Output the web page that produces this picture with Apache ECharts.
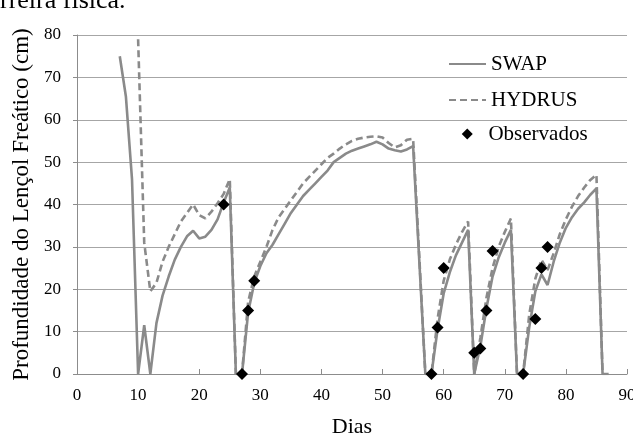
<!DOCTYPE html>
<html>
<head>
<meta charset="utf-8">
<script src="https://cdn.jsdelivr.net/npm/echarts@6/dist/echarts.min.js"></script>
<style>
html,body{margin:0;padding:0;background:#fff;overflow:hidden;}
#chart{width:633px;height:434px;}
</style>
</head>
<body>
<div id="chart"></div>
<script>
// ---- data ----
const swapDays = [7,8,9,10,11,12,13,14,15,16,17,18,19,20,21,22,23,24,25,26,27,28,29,30,31,32,33,34,35,36,37,38,39,40,41,42,43,44,45,46,47,48,49,50,51,52,53,54,55,56,57,58,59,60,61,62,63,64,65,66,67,68,69,70,71,72,73,74,75,76,77,78,79,80,81,82,83,84,85,86,87];
const swapDepth = [75,65.5,46,0,11.5,0,12,18.5,23,27,30,32.5,33.8,32,32.4,34,36.5,40.5,44,0,0,14.5,21.5,25.5,28.5,30.5,33,35.5,38,40,42,43.5,45,46.5,48,50,51,52,52.7,53.2,53.7,54.2,54.8,54.2,53.2,52.8,52.5,53,53.8,27,0,0,10.5,19,24,28,31,34,0,6.5,15.5,23,27.5,31,34,0,0,11,19.5,23.5,21,26.5,31,34.5,37,39,40.5,42.3,43.8,0,0];

const hydrusDays = [10,11,12,13,14,15,16,17,18,19,20,21,22,23,24,25,26,27,28,29,30,31,32,33,34,35,36,37,38,39,40,41,42,43,44,45,46,47,48,49,50,51,52,53,54,55,56,57,58,59,60,61,62,63,64,65,66,67,68,69,70,71,72,73,74,75,76,77,78,79,80,81,82,83,84,85,86];
const hydrusDepth = [79,31,19.5,21.5,26.5,30,33,36,38,40,37.5,36.7,38.3,40.3,42.5,46,0,0,17,23,26.5,30,34,37,39,41,43,45,46.5,48,49.5,51,52,53.2,54.2,55,55.5,55.8,56,56.1,55.8,54.5,53.5,54,55.3,55.5,28,0,0,13,22,27,30.5,33.5,36,0,8.5,18,25,30,33.5,36.7,0,0,14,22.5,27,24.5,28.5,33,36.5,39.5,42,44,45.8,47,0];

const obsDays = [24,27,28,29,58,59,60,65,66,67,68,73,75,76,77];
const obsDepth = [40,0,15,22,0,11,25,5,6,15,29,0,13,25,30];

const xTicks = [0,10,20,30,40,50,60,70,80,90];
const yTicks = [0,10,20,30,40,50,60,70,80];

const seriesNames = ['SWAP','HYDRUS','Observados'];
const yTitle = 'Profundidade do Lençol Freático (cm)';
const xTitle = 'Dias';
const topText = 'rreira física.';

// ---- build ----
const zip = (a,b) => a.map((v,i) => [v, b[i]]);
const FONT = 'Liberation Serif';
const lineColor = '#8a8a8a';

const chart = echarts.init(document.getElementById('chart'), null, {renderer:'canvas'});

const legendCommon = {
  orient: 'vertical',
  left: 448,
  itemWidth: 37,
  itemHeight: 11,
  selectedMode: false,
  textStyle: {fontFamily: FONT, fontSize: 21, color: '#000', lineHeight: 22},
  padding: 0
};
// diamond icon centred inside a 37-wide box (invisible anchor points keep the box width)
const diamondIcon = 'path://M0,5.5L0,5.5M37,5.5L37,5.5M21,0L27,6L21,12L15,6Z';

chart.setOption({
  animation: false,
  backgroundColor: '#fff',
  graphic: [{
    type: 'text', x: 0, y: 14,
    style: {text: topText, font: '26px "Liberation Serif"', fill: '#000', verticalAlign: 'bottom', align: 'left'}
  }],
  grid: {left: 77, right: 6, top: 35, bottom: 60, containLabel: false, outerBoundsMode: 'none'},
  legend: [
    Object.assign({}, legendCommon, {top: 53, itemStyle: {opacity: 0}, data: [seriesNames[0]]}),
    Object.assign({}, legendCommon, {top: 89, itemStyle: {opacity: 0}, data: [seriesNames[1]]}),
    Object.assign({}, legendCommon, {top: 123, itemStyle: {borderWidth: 0, opacity: 1}, data: [{name: seriesNames[2], icon: diamondIcon}]})
  ],
  xAxis: {
    type: 'value', min: xTicks[0], max: xTicks[xTicks.length-1], interval: 10,
    name: xTitle, nameLocation: 'middle', nameGap: 42,
    nameTextStyle: {fontFamily: FONT, fontSize: 22, color: '#000'},
    axisLine: {show: true, lineStyle: {color: '#8c8c8c', width: 1}},
    axisTick: {show: true, inside: true, length: 5, lineStyle: {color: '#8c8c8c'}},
    axisLabel: {fontFamily: FONT, fontSize: 17, color: '#000', margin: 13},
    splitLine: {show: false}
  },
  yAxis: {
    type: 'value', min: yTicks[0], max: yTicks[yTicks.length-1], interval: 10,
    name: yTitle, nameLocation: 'middle', nameGap: 43,
    nameTextStyle: {fontFamily: FONT, fontSize: 23, color: '#000'},
    axisLine: {show: true, lineStyle: {color: '#8c8c8c', width: 1}},
    axisTick: {show: true, inside: false, length: 4, lineStyle: {color: '#8c8c8c'}},
    axisLabel: {fontFamily: FONT, fontSize: 17, color: '#000', margin: 16},
    splitLine: {show: true, lineStyle: {color: '#a6a6a6', width: 1}}
  },
  series: [
    {
      name: seriesNames[0], type: 'line', data: zip(swapDays, swapDepth),
      symbol: 'none', color: lineColor,
      lineStyle: {color: lineColor, width: 2.6, type: 'solid'}, z: 3
    },
    {
      name: seriesNames[1], type: 'line', data: zip(hydrusDays, hydrusDepth),
      symbol: 'none', color: lineColor,
      lineStyle: {color: lineColor, width: 2.6, type: [7,4]}, z: 2
    },
    {
      name: seriesNames[2], type: 'scatter', data: zip(obsDays, obsDepth),
      symbol: 'diamond', symbolSize: 12, color: '#000',
      itemStyle: {color: '#000', opacity: 1}, z: 5
    }
  ]
});
</script>
</body>
</html>
